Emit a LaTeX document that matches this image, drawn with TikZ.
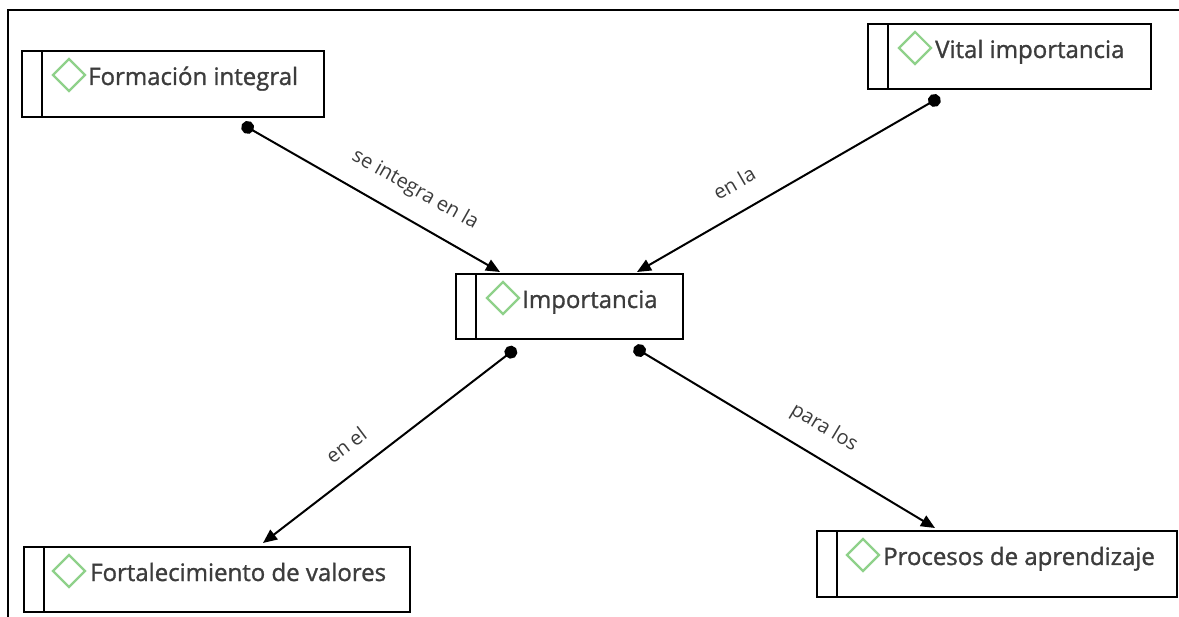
\documentclass[tikz,border=0pt]{standalone}
\usepackage{fontspec}
\setmainfont{Open Sans}
\newfontfamily\nodefont{Open Sans}[RawFeature={embolden=1.2}]
\usetikzlibrary{arrows.meta,shapes.geometric}
\definecolor{txt}{HTML}{3C3C3C}
\definecolor{dgreen}{HTML}{8FD18A}
\begin{document}
\begin{tikzpicture}[x=1pt,y=-1pt,
  conbox/.style={draw=black,line width=2.2pt,rectangle,anchor=north west,inner sep=0pt,
    path picture={\draw[line width=2.2pt] ([xshift=20pt]path picture bounding box.north west) -- ([xshift=20pt]path picture bounding box.south west);}},
  dmd/.style={draw=dgreen,line width=2.2pt,diamond,minimum width=33pt,minimum height=33pt,inner sep=0pt},
  ctext/.style={anchor=base west,inner sep=0pt,text=txt,font=\nodefont\fontsize{24}{28}\selectfont},
  elabel/.style={text=txt,inner sep=0pt,font=\fontsize{20}{24}\selectfont},
  conn/.style={draw=black,line width=2pt,{Circle[length=13pt]}-{Triangle[length=14pt,width=12pt]}}
]
\useasboundingbox (0,0) rectangle (1179,617);
\draw[line width=2pt] (8,617) -- (8,10) -- (1179,10);

% boxes
\node[conbox,minimum width=302pt,minimum height=66pt] (f) at (21,50) {};
\node[dmd] (fd) at (69,75) {};
\node[ctext] (ft) at (88,85) {Formación integral};

\node[conbox,minimum width=227pt,minimum height=65pt] (i) at (455,273) {};
\node[dmd] (id) at (503,298) {};
\node[ctext] (it) at (522,308) {Importancia};

\node[conbox,minimum width=283pt,minimum height=65pt] (v) at (867,23) {};
\node[dmd] (vd) at (915,48) {};
\node[ctext] (vt) at (935,58) {Vital importancia};

\node[conbox,minimum width=386pt,minimum height=65pt] (fo) at (23,546) {};
\node[dmd] (fod) at (69,571) {};
\node[ctext] (fot) at (90,581) {Fortalecimiento de valores};

\node[conbox,minimum width=360pt,minimum height=66pt] (p) at (816,530) {};
\node[dmd] (pd) at (863,555) {};
\node[ctext] (pt) at (883,565) {Procesos de aprendizaje};

% connectors
\draw[conn] ([shift={(221,6)}]f.south west) -- ([shift={(45,-1)}]i.north west);
\draw[conn] ([shift={(73,7)}]v.south west) -- ([shift={(182,-1)}]i.north west);
\draw[conn] ([shift={(61,8)}]i.south west) -- ([shift={(240,-3)}]fo.north west);
\draw[conn] ([shift={(179,7)}]i.south west) -- ([shift={(119,-2)}]p.north west);

% labels
\node[elabel,rotate=-29.5] (l1) at (415,190) {se integra en la};
\node[elabel,rotate=30] (l2) at (734,183) {en la};
\node[elabel,rotate=37] (l3) at (346,445) {en el};
\node[elabel,rotate=-31] (l4) at (824,428) {para los};
\end{tikzpicture}
\end{document}
